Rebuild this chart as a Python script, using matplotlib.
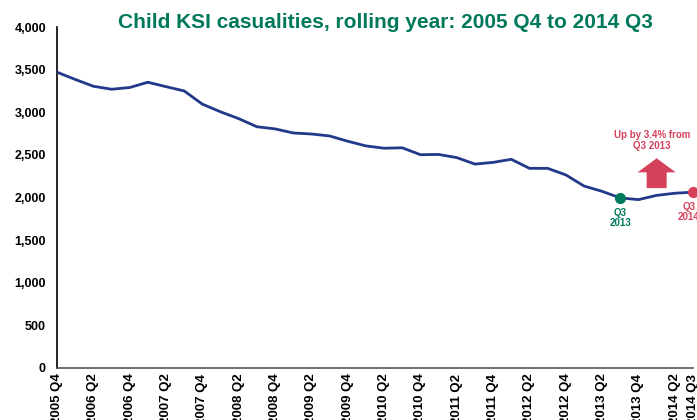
import matplotlib
matplotlib.use("Agg")
import matplotlib.pyplot as plt
from matplotlib.patches import FancyArrow

plt.rcParams['font.family'] = ['Liberation Sans', 'DejaVu Sans']

# Rolling-year child KSI casualties, 2005 Q4 .. 2014 Q3
quarters = [
    "2005 Q4", "2006 Q1", "2006 Q2", "2006 Q3", "2006 Q4", "2007 Q1", "2007 Q2", "2007 Q3",
    "2007 Q4", "2008 Q1", "2008 Q2", "2008 Q3", "2008 Q4", "2009 Q1", "2009 Q2", "2009 Q3",
    "2009 Q4", "2010 Q1", "2010 Q2", "2010 Q3", "2010 Q4", "2011 Q1", "2011 Q2", "2011 Q3",
    "2011 Q4", "2012 Q1", "2012 Q2", "2012 Q3", "2012 Q4", "2013 Q1", "2013 Q2", "2013 Q3",
    "2013 Q4", "2014 Q1", "2014 Q2", "2014 Q3",
]
casualties = [
    3470, 3385, 3305, 3270, 3290, 3352, 3300, 3250,
    3095, 3005, 2925, 2830, 2805, 2757, 2745, 2722,
    2660, 2605, 2578, 2583, 2502, 2505, 2468, 2392,
    2412, 2448, 2342, 2342, 2265, 2135, 2072, 1995,
    1975, 2025, 2050, 2063,
]
tick_labels = [q for i, q in enumerate(quarters) if i % 2 == 0] + [quarters[-1]]
tick_pos = [i for i in range(len(quarters)) if i % 2 == 0] + [len(quarters) - 1]

base_idx = quarters.index("2013 Q3")
last_idx = len(quarters) - 1
change_pct = (casualties[last_idx] / casualties[base_idx] - 1) * 100

line_col = "#22398A"
green = "#00785C"
red = "#D5405B"

fig = plt.figure(figsize=(6.97, 4.20), dpi=100)
ax = fig.add_axes([57 / 697, 52 / 420, 636 / 697, 341 / 420])

x = list(range(len(quarters)))
ax.plot(x, casualties, color=line_col, lw=2.0, solid_joinstyle="round", zorder=3)

ax.set_xlim(0, last_idx)
ax.set_ylim(0, 4000)
ax.set_yticks(range(0, 4001, 500))
ax.set_yticklabels([f"{v:,}" for v in range(0, 4001, 500)], fontsize=9, fontweight="bold")
ax.set_xticks(tick_pos)
ax.set_xticklabels(tick_labels, rotation=90, fontsize=9.5, fontweight="bold", va="top")
ax.tick_params(axis="y", length=0, pad=8)
ax.tick_params(axis="x", length=0, pad=4)
for s in ("top", "right"):
    ax.spines[s].set_visible(False)
ax.spines["left"].set_color("black")
ax.spines["left"].set_linewidth(1.2)
ax.spines["bottom"].set_color("#555555")
ax.spines["bottom"].set_linewidth(1.2)

# Highlighted points
ax.plot(base_idx, casualties[base_idx], "o", color=green, ms=7, zorder=4, clip_on=False)
ax.plot(last_idx, casualties[last_idx], "o", color=red, ms=7, zorder=4, clip_on=False)
ax.annotate("Q3\n2013", (base_idx, casualties[base_idx]), xytext=(0, -7),
            textcoords="offset points", ha="center", va="top", color=green,
            fontsize=7, fontweight="bold", linespacing=1.05)
ax.annotate("Q3\n2014", (last_idx, casualties[last_idx]), xytext=(-3, -7),
            textcoords="offset points", ha="center", va="top", color=red,
            fontsize=7, fontweight="bold", linespacing=1.05, annotation_clip=False)

# Change callout with block arrow
ax.text(32.75, 2665, f"Up by {change_pct:.1f}% from\nQ3 2013", ha="center", va="center",
        color=red, fontsize=7, fontweight="bold", linespacing=1.15)
ax.add_patch(FancyArrow(33.0, 2110, 0, 350, width=1.1, head_width=2.1,
                        head_length=165, length_includes_head=True,
                        color=red, lw=0, zorder=3))

fig.text(385 / 697, 1 - 22 / 420, "Child KSI casualities, rolling year: 2005 Q4 to 2014 Q3",
         ha="center", va="center", color=green, fontsize=15, fontweight="bold")

fig.savefig("out.png", dpi=100)
